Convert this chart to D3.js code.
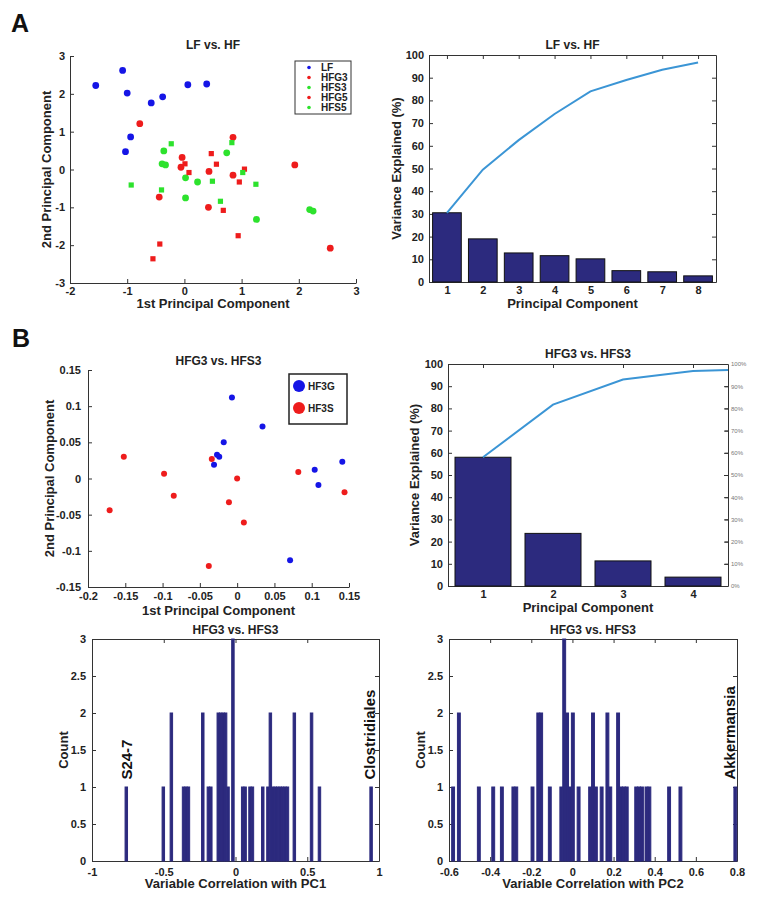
<!DOCTYPE html>
<html lang="en">
<head>
<meta charset="UTF-8">
<title>PCA: LF vs. HF, HFG3 vs. HFS3</title>
<script src="https://d3js.org/d3.v7.min.js"></script>
<style>
  body { margin: 0; background: #fff; }
  svg text { font-family: "Liberation Sans", Arial, sans-serif; font-weight: bold; fill: #222; }
  .tick text { font-size: 11px; }
  .tick line, .domain { stroke: #333; }
  .title { font-size: 12px; }
  .label { font-size: 13px; }
  .panel { font-size: 25px; fill: #111; }
  .note { font-size: 15px; fill: #111; }
  .pct .tick text { font-size: 6px; font-weight: normal; fill: #777; }
</style>
</head>
<body>
<svg width="772" height="901"></svg>
<script>
// ---- A, left: PCA scores, LF vs. HF ----
const aLF   = [[-1.55,2.22],[-1.08,2.62],[-1.0,2.02],[-0.58,1.76],[-0.38,1.92],[0.06,2.24],[0.39,2.26],[-0.94,0.86],[-1.03,0.47]];
const aHFG3 = [[-0.78,1.21],[0.85,0.85],[-0.04,0.32],[-0.06,0.06],[0.43,-0.05],[0.85,-0.15],[1.93,0.12],[-0.44,-0.73],[0.42,-1.0],[2.55,-2.08]];
const aHFS3 = [[-0.36,0.49],[-0.39,0.15],[-0.33,0.12],[0.02,-0.22],[0.23,-0.33],[0.74,0.44],[0.02,-0.75],[1.26,-1.32],[2.19,-1.06],[2.25,-1.1]];
const aHFG5 = [[0.01,0.15],[0.08,-0.08],[0.47,0.42],[0.56,0.14],[1.05,0.01],[0.96,-0.33],[0.68,-1.08],[0.94,-1.75],[-0.43,-1.97],[-0.55,-2.36]];
const aHFS5 = [[-0.23,0.68],[0.83,0.71],[-0.93,-0.41],[-0.40,-0.54],[0.49,-0.31],[0.63,-0.84],[1.02,-0.08],[1.25,-0.39]];
const aXTicks = [-2, -1, 0, 1, 2, 3];
const aYTicks = [-3, -2, -1, 0, 1, 2, 3];

// ---- A, right: variance explained ----
const aComponents = [1, 2, 3, 4, 5, 6, 7, 8];
const aVariance   = [30.5, 19, 12.8, 11.6, 10.2, 5, 4.5, 2.7];
const aCumulative = [30.5, 49.5, 62.5, 74, 84, 89, 93.5, 96.7];

// ---- B, left: PCA scores, HFG3 vs. HFS3 ----
const bHF3G = [[-0.007,0.112],[0.034,0.072],[-0.018,0.05],[-0.027,0.033],[-0.024,0.030],[-0.031,0.019],[0.104,0.012],[0.109,-0.009],[0.141,0.023],[0.071,-0.113]];
const bHF3S = [[-0.152,0.030],[-0.098,0.0065],[-0.085,-0.024],[-0.171,-0.044],[-0.034,0.027],[0.0,0.0],[-0.011,-0.033],[0.009,-0.061],[-0.038,-0.121],[0.082,0.009],[0.144,-0.019]];
const bXTicks = [-0.2, -0.15, -0.1, -0.05, 0, 0.05, 0.1, 0.15];
const bYTicks = [-0.15, -0.1, -0.05, 0, 0.05, 0.1, 0.15];

// ---- B, right: variance explained ----
const bComponents = [1, 2, 3, 4];
const bVariance   = [58, 23.7, 11.3, 4];
const bCumulative = [58, 81.7, 93, 96.8, 97.7];   // last point lies past the axis edge
const pctTicks = [0, 10, 20, 30, 40, 50, 60, 70, 80, 90, 100];

// ---- B, bottom: histograms of loadings ----
const pc1Width = 0.0171;
const pc1Centers = [-0.761,-0.503,-0.447,-0.362,-0.345,-0.328,-0.228,-0.189,-0.172,-0.120,-0.103,-0.086,-0.069,-0.052,-0.018,
                    0.050,0.067,0.101,0.118,0.190,0.226,0.243,0.260,0.277,0.294,0.311,0.328,0.345,0.362,0.410,0.530,0.585,0.945];
const pc1Counts  = [1,1,2,1,1,1,2,1,1,2,2,2,2,1,3,1,1,1,1,1,1,2,1,1,1,1,1,1,1,2,2,1,1];
const pc1Notes   = [["S24-7", -0.721, 1.1], ["Clostridiales", 0.972, 1.1]];

const pc2Width = 0.014;
const pc2Centers = [-0.580,-0.552,-0.455,-0.385,-0.343,-0.287,-0.273,-0.194,-0.166,-0.152,-0.110,-0.054,-0.040,-0.026,-0.012,
                    0.002,0.030,0.086,0.100,0.114,0.142,0.170,0.184,0.222,0.236,0.250,0.264,0.310,0.324,0.338,0.360,0.374,0.470,0.525,0.792];
const pc2Counts  = [1,2,1,1,1,1,1,1,2,2,1,1,3,2,1,2,1,1,2,1,1,2,1,2,1,1,1,1,1,1,1,1,1,1,1];
const pc2Notes   = [["Akkermansia", 0.791, 1.1]];
const histYTicks = [0, 0.5, 1, 1.5, 2, 2.5, 3];

const navy = "#2c2a7e";
const lineBlue = "#3b95d5";
const fmt = d => String(+d.toFixed(2));

const svg = d3.select("svg");

// MATLAB-like axes: inward ticks, optional box with mirrored ticks
function drawAxes(x, y, o) {
  const g = svg.append("g");
  const [x0, x1] = x.range(), [y0, y1] = y.range();
  g.append("g").attr("transform", `translate(0,${y0})`)
    .call(d3.axisBottom(x).tickValues(o.xTicks).tickFormat(fmt).tickSizeInner(-4).tickSizeOuter(0).tickPadding(o.xPad || 4));
  g.append("g").attr("transform", `translate(${x0},0)`)
    .call(d3.axisLeft(y).tickValues(o.yTicks).tickFormat(fmt).tickSizeInner(-4).tickSizeOuter(0).tickPadding(o.yPad || 5));
  if (o.box) {
    g.append("g").attr("transform", `translate(0,${y1})`)
      .call(d3.axisTop(x).tickValues(o.xTicks).tickFormat("").tickSizeInner(-4).tickSizeOuter(0));
    g.append("g").attr("transform", `translate(${x1},0)`)
      .call(d3.axisRight(y).tickValues(o.yTicks).tickFormat("").tickSizeInner(-4).tickSizeOuter(0));
  }
  const cx = (x0 + x1) / 2;
  g.append("text").attr("class", "title").attr("x", cx).attr("y", y1 - o.titleGap)
    .attr("text-anchor", "middle").text(o.title);
  g.append("text").attr("class", "label").attr("x", cx).attr("y", y0 + o.xLabGap)
    .attr("text-anchor", "middle").text(o.xLabel);
  g.append("text").attr("class", "label").attr("text-anchor", "middle")
    .attr("transform", `translate(${x0 - o.yLabGap},${(y0 + y1) / 2}) rotate(-90)`).text(o.yLabel);
  return g;
}

// panel letters
svg.append("text").attr("class", "panel").attr("x", 11).attr("y", 32).text("A");
svg.append("text").attr("class", "panel").attr("x", 12).attr("y", 347).text("B");

// ---------- A scatter ----------
{
  const x = d3.scaleLinear().domain([-2, 3]).range([70, 356]);
  const y = d3.scaleLinear().domain([-3, 3]).range([283, 56]);
  drawAxes(x, y, { xTicks: aXTicks, yTicks: aYTicks, title: "LF vs. HF", titleGap: 7,
    xLabel: "1st Principal Component", xLabGap: 25, yLabel: "2nd Principal Component", yLabGap: 19 });

  const groups = [
    { name: "LF",   pts: aLF,   color: "#1515e6", square: false },
    { name: "HFG3", pts: aHFG3, color: "#ee1c1c", square: false },
    { name: "HFS3", pts: aHFS3, color: "#2de22d", square: false },
    { name: "HFG5", pts: aHFG5, color: "#ee1c1c", square: true },
    { name: "HFS5", pts: aHFS5, color: "#2de22d", square: true }
  ];
  groups.forEach(gr => {
    if (gr.square) {
      svg.append("g").selectAll("rect").data(gr.pts).join("rect")
        .attr("x", d => x(d[0]) - 2.6).attr("y", d => y(d[1]) - 2.6)
        .attr("width", 5.2).attr("height", 5.2).attr("fill", gr.color);
    } else {
      svg.append("g").selectAll("circle").data(gr.pts).join("circle")
        .attr("cx", d => x(d[0])).attr("cy", d => y(d[1])).attr("r", 3.4).attr("fill", gr.color);
    }
  });

  const leg = svg.append("g").attr("transform", "translate(295,61)");
  leg.append("rect").attr("width", 56).attr("height", 53).attr("fill", "#fff").attr("stroke", "#333");
  groups.forEach((gr, i) => {
    leg.append("circle").attr("cx", 14).attr("cy", 6.5 + i * 10).attr("r", 1.8).attr("fill", gr.color);
    leg.append("text").attr("x", 26).attr("y", 10 + i * 10).style("font-size", "10px").text(gr.name);
  });
}

// ---------- A variance ----------
{
  const x = d3.scaleLinear().domain([0.5, 8.5]).range([429, 716]);
  const y = d3.scaleLinear().domain([0, 100]).range([282, 55]);
  const g = drawAxes(x, y, { xTicks: aComponents, yTicks: d3.range(0, 101, 10), box: true,
    title: "LF vs. HF", titleGap: 6, xLabel: "Principal Component", xLabGap: 26,
    yLabel: "Variance Explained (%)", yLabGap: 28 });
  g.append("g").selectAll("rect").data(aVariance).join("rect")
    .attr("x", (d, i) => x(aComponents[i] - 0.4)).attr("width", x(1.4) - x(0.6))
    .attr("y", d => y(d)).attr("height", d => y(0) - y(d))
    .attr("fill", navy).attr("stroke", "#111").attr("stroke-width", 1);
  g.append("path").datum(aCumulative)
    .attr("d", d3.line().x((d, i) => x(aComponents[i])).y(d => y(d)))
    .attr("fill", "none").attr("stroke", lineBlue).attr("stroke-width", 2);
}

// ---------- B scatter ----------
{
  const x = d3.scaleLinear().domain([-0.2, 0.15]).range([88, 349]);
  const y = d3.scaleLinear().domain([-0.15, 0.15]).range([587, 370]);
  drawAxes(x, y, { xTicks: bXTicks, yTicks: bYTicks, title: "HFG3 vs. HFS3", titleGap: 5,
    xLabel: "1st Principal Component", xLabGap: 28, xPad: 5, yPad: 7,
    yLabel: "2nd Principal Component", yLabGap: 34 });
  svg.append("g").selectAll("circle").data(bHF3G).join("circle")
    .attr("cx", d => x(d[0])).attr("cy", d => y(d[1])).attr("r", 3).attr("fill", "#1515e6");
  svg.append("g").selectAll("circle").data(bHF3S).join("circle")
    .attr("cx", d => x(d[0])).attr("cy", d => y(d[1])).attr("r", 3).attr("fill", "#ee1c1c");

  const leg = svg.append("g").attr("transform", "translate(289,374)");
  leg.append("rect").attr("width", 58).attr("height", 50).attr("fill", "#fff")
    .attr("stroke", "#222").attr("stroke-width", 1.5);
  [["HF3G", "#1515e6"], ["HF3S", "#ee1c1c"]].forEach((e, i) => {
    leg.append("circle").attr("cx", 10).attr("cy", 12 + i * 22).attr("r", 6).attr("fill", e[1]);
    leg.append("text").attr("x", 19).attr("y", 16 + i * 22).style("font-size", "10px").text(e[0]);
  });
}

// ---------- B variance ----------
{
  const x = d3.scaleLinear().domain([0.5, 4.5]).range([448, 728]);
  const y = d3.scaleLinear().domain([0, 100]).range([586, 364]);
  const g = drawAxes(x, y, { xTicks: bComponents, yTicks: d3.range(0, 101, 10), box: true,
    title: "HFG3 vs. HFS3", titleGap: 6, xLabel: "Principal Component", xLabGap: 26,
    yLabel: "Variance Explained (%)", yLabGap: 29 });
  g.append("g").attr("class", "pct").attr("transform", "translate(728,0)")
    .call(d3.axisRight(y).tickValues(pctTicks).tickFormat(d => d + "%").tickSizeInner(-3).tickSizeOuter(0).tickPadding(3))
    .call(s => s.select(".domain").remove());
  g.append("g").selectAll("rect").data(bVariance).join("rect")
    .attr("x", (d, i) => x(bComponents[i] - 0.4)).attr("width", x(1.4) - x(0.6))
    .attr("y", d => y(d)).attr("height", d => y(0) - y(d))
    .attr("fill", navy).attr("stroke", "#111").attr("stroke-width", 1);
  svg.append("clipPath").attr("id", "clipB").append("rect")
    .attr("x", 448).attr("y", 360).attr("width", 280).attr("height", 230);
  g.append("path").datum(bCumulative).attr("clip-path", "url(#clipB)")
    .attr("d", d3.line().x((d, i) => x(i + 1)).y(d => y(d)))
    .attr("fill", "none").attr("stroke", lineBlue).attr("stroke-width", 2);
}

// ---------- histograms ----------
function histogram(x, centers, counts, w, notes, pcName, xTicks, yLabGap) {
  const y = d3.scaleLinear().domain([0, 3]).range([861, 639]);
  const g = drawAxes(x, y, { xTicks: xTicks, yTicks: histYTicks, box: true, xPad: 7, yPad: 6,
    title: "HFG3 vs. HFS3", titleGap: 5, xLabel: "Variable Correlation with " + pcName, xLabGap: 27,
    yLabel: "Count", yLabGap: yLabGap });
  g.append("g").selectAll("rect").data(counts).join("rect")
    .attr("x", (d, i) => x(centers[i] - w / 2)).attr("width", (d, i) => x(centers[i] + w / 2) - x(centers[i] - w / 2))
    .attr("y", d => y(d)).attr("height", d => y(0) - y(d))
    .attr("fill", navy).attr("stroke", navy).attr("stroke-width", 1);
  notes.forEach(n => {
    g.append("text").attr("class", "note")
      .attr("transform", `translate(${x(n[1])},${y(n[2])}) rotate(-90)`).text(n[0]);
  });
}
histogram(d3.scaleLinear().domain([-1, 1]).range([92, 379]), pc1Centers, pc1Counts, pc1Width,
  pc1Notes, "PC1", [-1, -0.5, 0, 0.5, 1], 24);
histogram(d3.scaleLinear().domain([-0.6, 0.8]).range([449, 737]), pc2Centers, pc2Counts, pc2Width,
  pc2Notes, "PC2", [-0.6, -0.4, -0.2, 0, 0.2, 0.4, 0.6, 0.8], 24);
</script>
</body>
</html>
